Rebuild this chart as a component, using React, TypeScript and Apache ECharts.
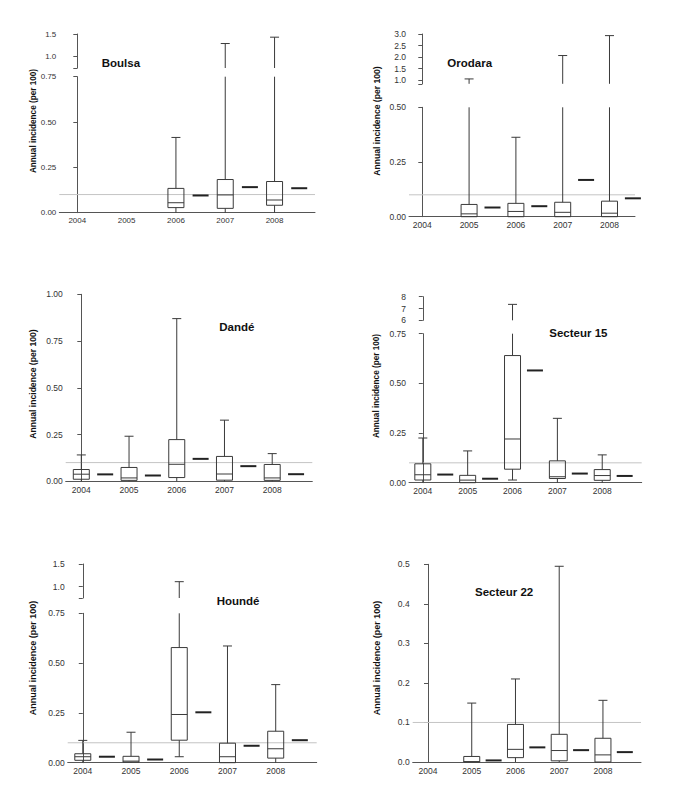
import React, { useEffect, useRef } from "react";
import * as echarts from "echarts";

const YEARS = ["2004", "2005", "2006", "2007", "2008"];
const THRESHOLD = 0.1;

// stats per year: [min, q1, median, q3, max] ; null = no data
const boulsaStats = [null, null, [0, 0.028, 0.055, 0.134, 0.415], [0, 0.024, 0.098, 0.183, 1.29], [0, 0.041, 0.07, 0.172, 1.43]];
const boulsaMeans = [null, null, 0.095, 0.141, 0.135];

const orodaraStats = [null, [0, 0, 0.013, 0.056, 1.06], [0, 0, 0.024, 0.061, 0.363], [0, 0, 0.02, 0.066, 2.07], [0, 0, 0.016, 0.071, 2.93]];
const orodaraMeans = [null, 0.042, 0.048, 0.168, 0.084];

const dandeStats = [[0, 0.011, 0.038, 0.063, 0.141], [0, 0.005, 0.018, 0.074, 0.241], [0, 0.02, 0.091, 0.223, 0.87], [0, 0.006, 0.039, 0.133, 0.327], [0, 0.005, 0.018, 0.09, 0.148]];
const dandeMeans = [0.037, 0.031, 0.12, 0.081, 0.038];

const secteur15Stats = [[0, 0.0135, 0.04, 0.095, 0.225], [0, 0, 0.013, 0.037, 0.16], [0.0135, 0.068, 0.22, 0.64, 7.35], [0, 0.021, 0.03, 0.11, 0.324], [0, 0.012, 0.036, 0.066, 0.14]];
const secteur15Means = [0.041, 0.02, 0.565, 0.046, 0.034];

const houndeStats = [[0, 0.012, 0.03, 0.045, 0.112], [0, 0.003, 0.008, 0.032, 0.153], [0.03, 0.113, 0.242, 0.578, 1.11], [0, 0, 0.03, 0.098, 0.586], [0, 0.023, 0.07, 0.158, 0.392]];
const houndeMeans = [0.03, 0.016, 0.253, 0.085, 0.113];

const secteur22Stats = [null, [0, 0, 0.001, 0.014, 0.149], [0, 0.011, 0.032, 0.095, 0.21], [0, 0.003, 0.029, 0.07, 0.495], [0, 0, 0.018, 0.06, 0.156]];
const secteur22Means = [null, 0.004, 0.037, 0.03, 0.025];

const Y_NAME = "Annual incidence (per 100)";
const FONT = '"Liberation Sans", Arial, Helvetica, sans-serif';

const panels = [
  {
    name: "Boulsa", stats: boulsaStats, means: boulsaMeans,
    axisX: 59.3, endX: 315, xMin: -0.365, xMax: 4.82, fs: 8,
    lower: { top: 76.7, bottom: 212.7, max: 0.75, interval: 0.25, digits: 2 },
    upper: { top: 34, bottom: 68, min: 0.75, max: 1.5, ticks: [0.75, 1, 1.5], labels: [1, 1.5], digits: 1 },
    title: { x: 101.7, y: 63.3 }, yName: { x: 33.3, y: 121, size: 8.2 },
  },
  {
    name: "Orodara", stats: orodaraStats, means: orodaraMeans,
    axisX: 409, endX: 635, xMin: -0.284, xMax: 4.545, fs: 8.5,
    lower: { top: 107.3, bottom: 216.7, max: 0.5, interval: 0.25, digits: 2 },
    upper: { top: 34, bottom: 83.8, min: 0.85, max: 3, ticks: [0.85, 1, 1.5, 2, 2.5, 3], labels: [1, 1.5, 2, 2.5, 3], digits: 1 },
    title: { x: 447.3, y: 62.7 }, yName: { x: 377.3, y: 121, size: 8.6 },
  },
  {
    name: "Dandé", stats: dandeStats, means: dandeMeans,
    axisX: 65.7, endX: 312.3, xMin: -0.327, xMax: 4.84, fs: 8.5,
    lower: { top: 294.3, bottom: 481.3, max: 1, interval: 0.25, digits: 2 },
    upper: null,
    title: { x: 219.3, y: 326.7 }, yName: { x: 33.3, y: 384, size: 8.6 },
  },
  {
    name: "Secteur 15", stats: secteur15Stats, means: secteur15Means,
    axisX: 409, endX: 641.7, xMin: -0.308, xMax: 4.88, fs: 8.5,
    lower: { top: 333.7, bottom: 482.7, max: 0.75, interval: 0.25, digits: 2 },
    upper: { top: 296.7, bottom: 320.3, min: 6, max: 8, ticks: [6, 7, 8], labels: [6, 7, 8], digits: 0 },
    title: { x: 549.3, y: 333.3 }, yName: { x: 376.7, y: 386, size: 8.2 },
  },
  {
    name: "Houndé", stats: houndeStats, means: houndeMeans,
    axisX: 67.7, endX: 316.7, xMin: -0.313, xMax: 4.85, fs: 8.5,
    lower: { top: 613.3, bottom: 762.7, max: 0.75, interval: 0.25, digits: 2 },
    upper: { top: 564, bottom: 598, min: 0.75, max: 1.5, ticks: [0.75, 1, 1.5], labels: [1, 1.5], digits: 1 },
    title: { x: 216.7, y: 600.7 }, yName: { x: 33.3, y: 658, size: 9 },
  },
  {
    name: "Secteur 22", stats: secteur22Stats, means: secteur22Means,
    axisX: 412.7, endX: 641, xMin: -0.35, xMax: 4.87, fs: 8.5,
    lower: { top: 564.3, bottom: 762, max: 0.5, interval: 0.1, digits: 1 },
    upper: null,
    title: { x: 475, y: 592.3 }, yName: { x: 377.3, y: 658, size: 9 },
  },
];

const STROKE = "#3a3a3a";
const BOX_HW = 8;
const CAP_HW = 4.5;
const MEAN_HW = 8;

function boxRender(params: any, api: any) {
  const cs = params.coordSys;
  const top = cs.y;
  const bot = cs.y + cs.height;
  const x = api.value(0);
  const cx = api.coord([x, 0])[0];
  const py = (v: number) => api.coord([x, v])[1];
  const yMin = py(api.value(1));
  const yQ1 = py(api.value(2));
  const yMed = py(api.value(3));
  const yQ3 = py(api.value(4));
  const yMax = py(api.value(5));
  const clamp = (y: number) => Math.max(top, Math.min(bot, y));
  const children: any[] = [];
  const vline = (y1: number, y2: number) => {
    const a = clamp(Math.min(y1, y2));
    const b = clamp(Math.max(y1, y2));
    if (b - a > 0.2) {
      children.push({ type: "line", shape: { x1: cx, y1: a, x2: cx, y2: b }, style: { stroke: STROKE, lineWidth: 1 } });
    }
  };
  const hline = (y: number, hw: number) => {
    if (y >= top - 0.5 && y <= bot + 0.5) {
      children.push({ type: "line", shape: { x1: cx - hw, y1: y, x2: cx + hw, y2: y }, style: { stroke: STROKE, lineWidth: 1 } });
    }
  };
  vline(yMax, yQ3);
  vline(yQ1, yMin);
  hline(yMax, CAP_HW);
  if (yMin < bot - 1) hline(yMin, CAP_HW);
  const bt = clamp(Math.min(yQ1, yQ3));
  const bb = clamp(Math.max(yQ1, yQ3));
  if (bb - bt > 0.2) {
    children.push({ type: "rect", shape: { x: cx - BOX_HW, y: bt, width: BOX_HW * 2, height: bb - bt }, style: { stroke: STROKE, fill: "rgba(255,255,255,0)", lineWidth: 1 } });
  }
  hline(yMed, BOX_HW);
  return { type: "group", children };
}

function meanRender(params: any, api: any) {
  const cs = params.coordSys;
  const top = cs.y;
  const bot = cs.y + cs.height;
  const p = api.coord([api.value(0), api.value(1)]);
  if (p[1] < top - 0.5 || p[1] > bot + 0.5) return { type: "group", children: [] };
  return {
    type: "line",
    shape: { x1: p[0] - MEAN_HW, y1: p[1], x2: p[0] + MEAN_HW, y2: p[1] },
    style: { stroke: "#222", lineWidth: 2 },
  };
}

function buildOption() {
  const grid: any[] = [];
  const xAxis: any[] = [];
  const yAxis: any[] = [];
  const series: any[] = [];
  const graphic: any[] = [];
  const axisLine = { show: true, lineStyle: { color: "#555", width: 1 } };

  panels.forEach((p) => {
    const boxData = p.stats.flatMap((s, i) => (s ? [[i, ...s]] : []));
    const meanData = p.means.flatMap((m, i) => (m == null ? [] : [[i + 0.5, m]]));
    const width = p.endX - p.axisX;

    // lower grid
    const gi = grid.length;
    grid.push({ left: p.axisX, top: p.lower.top, width, height: p.lower.bottom - p.lower.top });
    xAxis.push({
      gridIndex: gi, type: "value", min: p.xMin, max: p.xMax,
      axisLine, axisTick: { show: false }, splitLine: { show: false },
      axisLabel: {
        customValues: [0, 1, 2, 3, 4],
        formatter: (v: number) => YEARS[Math.round(v)],
        fontSize: p.fs, color: "#333", margin: 4, fontFamily: FONT,
      },
    });
    const dg = p.lower.digits;
    yAxis.push({
      gridIndex: gi, type: "value", min: 0, max: p.lower.max, interval: p.lower.interval,
      axisLine, axisTick: { show: true, length: 4, lineStyle: { color: "#555" } }, splitLine: { show: false },
      axisLabel: { formatter: (v: number) => v.toFixed(dg), fontSize: p.fs, color: "#333", margin: 3, fontFamily: FONT },
    });
    series.push({
      type: "line", xAxisIndex: gi, yAxisIndex: gi, symbol: "none", silent: true, z: 1,
      data: [[p.xMin, THRESHOLD], [p.xMax, THRESHOLD]],
      lineStyle: { color: "#c4c4c4", width: 1 },
    });
    series.push({ type: "custom", xAxisIndex: gi, yAxisIndex: gi, renderItem: boxRender, data: boxData, z: 3, silent: true });
    series.push({ type: "custom", xAxisIndex: gi, yAxisIndex: gi, renderItem: meanRender, data: meanData, z: 3, silent: true });

    // upper grid (broken axis)
    if (p.upper) {
      const u = p.upper;
      const ui = grid.length;
      grid.push({ left: p.axisX, top: u.top, width, height: u.bottom - u.top });
      xAxis.push({ gridIndex: ui, type: "value", min: p.xMin, max: p.xMax, show: false });
      const ud = u.digits;
      yAxis.push({
        gridIndex: ui, type: "value", min: u.min, max: u.max,
        axisLine, splitLine: { show: false },
        axisTick: { show: true, length: 4, customValues: u.ticks, lineStyle: { color: "#555" } },
        axisLabel: { customValues: u.labels, formatter: (v: number) => v.toFixed(ud), fontSize: p.fs, color: "#333", margin: 3, fontFamily: FONT },
      });
      series.push({ type: "custom", xAxisIndex: ui, yAxisIndex: ui, renderItem: boxRender, data: boxData, z: 3, silent: true });
    }

    graphic.push({
      type: "text", x: p.title.x, y: p.title.y,
      style: { text: p.name, fill: "#111", font: `bold 11.5px ${FONT}`, align: "left", verticalAlign: "middle", textAlign: "left", textVerticalAlign: "middle" },
    });
    graphic.push({
      type: "text", x: p.yName.x, y: p.yName.y, rotation: Math.PI / 2,
      style: { text: Y_NAME, fill: "#111", font: `bold ${p.yName.size}px ${FONT}`, align: "center", verticalAlign: "middle", textAlign: "center", textVerticalAlign: "middle" },
    });
  });

  return { animation: false, backgroundColor: "#fff", grid, xAxis, yAxis, series, graphic };
}

export default function App() {
  const ref = useRef<HTMLDivElement>(null);
  useEffect(() => {
    const chart = echarts.init(ref.current as HTMLDivElement, null, { renderer: "svg" });
    chart.setOption(buildOption() as any);
    return () => chart.dispose();
  }, []);
  return <div ref={ref} style={{ position: "fixed", left: 0, top: 0, width: 685, height: 804, background: "#fff" }} />;
}
